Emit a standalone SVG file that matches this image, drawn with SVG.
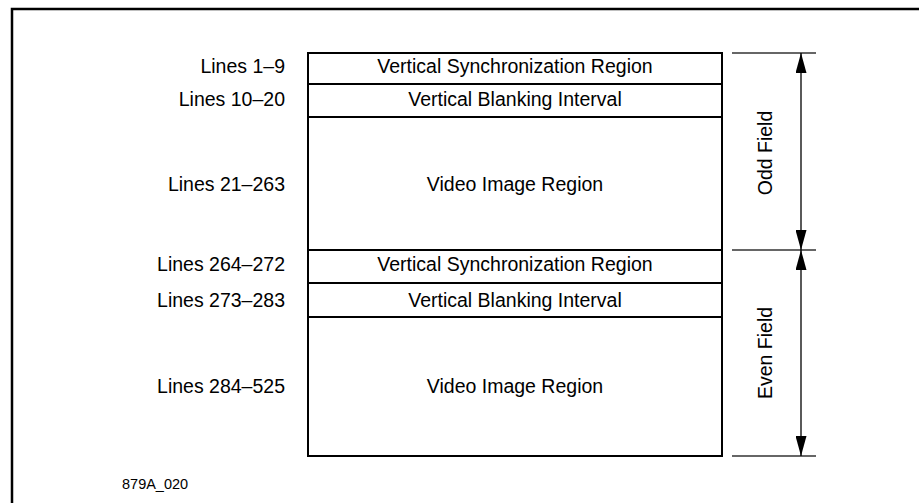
<svg xmlns="http://www.w3.org/2000/svg" width="919" height="503" viewBox="0 0 919 503">
<defs>
<style>
text{font-family:"Liberation Sans",Arial,sans-serif;fill:#000}
.t{font-size:19.5px;text-anchor:middle}
.l{font-size:19.5px;text-anchor:end}
.f{font-size:19.5px;text-anchor:middle}
.box{fill:#fff;stroke:#000;stroke-width:2}
.ext{stroke:#333;stroke-width:1.5;fill:none}
.dim{stroke:#000;stroke-width:1.3;fill:none;marker-start:url(#ah);marker-end:url(#ah)}
</style>
<marker id="ah" viewBox="0 0 20 11" refX="20" refY="5.5" markerWidth="20" markerHeight="11" markerUnits="userSpaceOnUse" orient="auto-start-reverse">
<path d="M0,0 L20,5.5 L0,11 Z" fill="#000"/>
</marker>
</defs>
<rect x="12" y="9" width="920" height="510" fill="#fff" stroke="#000" stroke-width="2.5"/>
<g id="row1"><rect class="box" x="308" y="53" width="414" height="31"/><text class="t" x="515" y="73">Vertical Synchronization Region</text><text class="l" x="285" y="73">Lines 1–9</text></g>
<g id="row2"><rect class="box" x="308" y="84" width="414" height="33"/><text class="t" x="515" y="106">Vertical Blanking Interval</text><text class="l" x="285" y="106">Lines 10–20</text></g>
<g id="row3"><rect class="box" x="308" y="117" width="414" height="133"/><text class="t" x="515" y="191">Video Image Region</text><text class="l" x="285" y="191">Lines 21–263</text></g>
<g id="row4"><rect class="box" x="308" y="250" width="414" height="33"/><text class="t" x="515" y="271">Vertical Synchronization Region</text><text class="l" x="285" y="271">Lines 264–272</text></g>
<g id="row5"><rect class="box" x="308" y="283" width="414" height="34"/><text class="t" x="515" y="307">Vertical Blanking Interval</text><text class="l" x="285" y="307">Lines 273–283</text></g>
<g id="row6"><rect class="box" x="308" y="317" width="414" height="139"/><text class="t" x="515" y="393">Video Image Region</text><text class="l" x="285" y="393">Lines 284–525</text></g>
<g id="odd-field"><text class="f" transform="translate(772,153) rotate(-90)">Odd Field</text></g>
<g id="even-field"><text class="f" transform="translate(772,353) rotate(-90)">Even Field</text></g>
<g id="connectors">
<line class="ext" x1="732" y1="53" x2="816" y2="53"/>
<line class="ext" x1="732" y1="250" x2="816" y2="250"/>
<line class="ext" x1="732" y1="456" x2="816" y2="456"/>
<line class="dim" x1="801" y1="53" x2="801" y2="250"/>
<line class="dim" x1="801" y1="250" x2="801" y2="456"/>
</g>
<text x="122" y="489" style="font-size:14.5px">879A_020</text>
</svg>
